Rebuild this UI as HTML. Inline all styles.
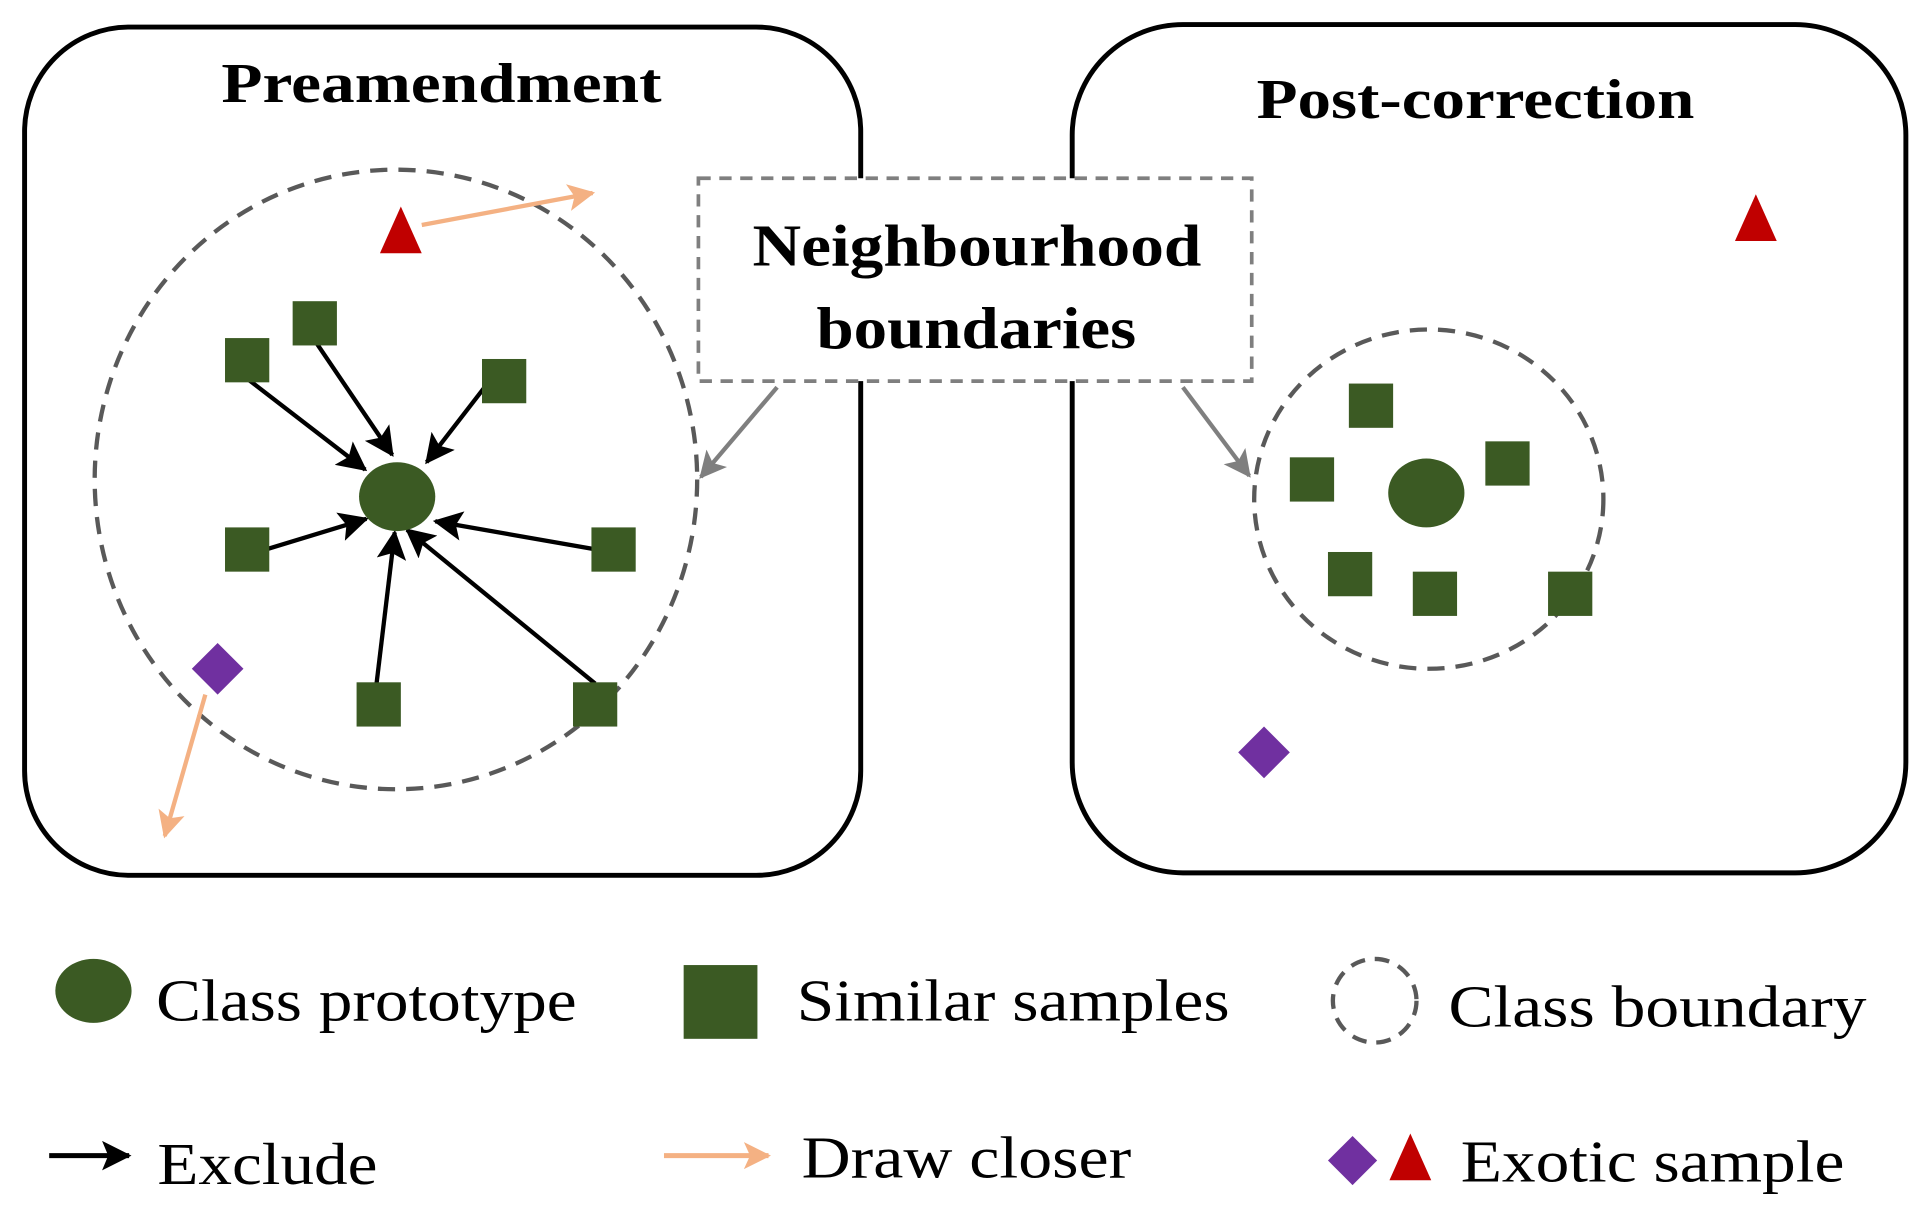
<!DOCTYPE html>
<html><head><meta charset="utf-8"><style>
html,body{margin:0;padding:0;background:#fff;}
svg{display:block;}
text{font-family:"Liberation Serif",serif;}
</style></head><body>
<svg width="1928" height="1222" viewBox="0 0 1568 994" preserveAspectRatio="none" xmlns="http://www.w3.org/2000/svg">
<defs>
<marker id="ao" markerWidth="22" markerHeight="22" refX="20" refY="11" orient="auto" markerUnits="userSpaceOnUse"><path d="M0,0 L22,11 L0,22 L5,11 z" fill="#f4b183"/></marker>
<marker id="ag" markerWidth="22" markerHeight="22" refX="20" refY="11" orient="auto" markerUnits="userSpaceOnUse"><path d="M0,0 L22,11 L0,22 L5,11 z" fill="#7f7f7f"/></marker>
<marker id="ak" markerWidth="24" markerHeight="24" refX="22" refY="12" orient="auto" markerUnits="userSpaceOnUse"><path d="M0,0 L24,12 L0,24 L5,12 z" fill="#000"/></marker>
</defs>
<rect x="20" y="22" width="680" height="690" rx="85" fill="none" stroke="#000" stroke-width="4"/>
<rect x="872" y="20" width="678" height="690" rx="90" fill="none" stroke="#000" stroke-width="4"/>
<text x="180" y="83" font-size="46" font-weight="bold" textLength="358" lengthAdjust="spacingAndGlyphs">Preamendment</text>
<text x="1022" y="96" font-size="46" font-weight="bold" textLength="356" lengthAdjust="spacingAndGlyphs">Post-correction</text>
<ellipse cx="322" cy="390" rx="245" ry="252" fill="none" stroke="#595959" stroke-width="3.5" stroke-dasharray="14,9"/>
<ellipse cx="1162" cy="406" rx="142" ry="138" fill="none" stroke="#595959" stroke-width="3.5" stroke-dasharray="14,9"/>
<rect x="568" y="145" width="450" height="165" fill="#fff" stroke="#7f7f7f" stroke-width="3" stroke-dasharray="10,7"/>
<text x="612" y="216" font-size="48" font-weight="bold" textLength="365" lengthAdjust="spacingAndGlyphs">Neighbourhood</text>
<text x="664" y="283" font-size="48" font-weight="bold" textLength="260" lengthAdjust="spacingAndGlyphs">boundaries</text>
<line x1="632" y1="315" x2="570" y2="388" stroke="#7f7f7f" stroke-width="3.5" marker-end="url(#ag)"/>
<line x1="962" y1="315" x2="1016" y2="387" stroke="#7f7f7f" stroke-width="3.5" marker-end="url(#ag)"/>
<g stroke="#000" stroke-width="3.5" marker-end="url(#ak)">
<line x1="201" y1="308" x2="297" y2="382"/>
<line x1="258" y1="280" x2="319" y2="370"/>
<line x1="398" y1="310" x2="347" y2="376"/>
<line x1="216" y1="447" x2="298" y2="422"/>
<line x1="485" y1="447" x2="354" y2="424"/>
<line x1="306" y1="558" x2="321" y2="433"/>
<line x1="484" y1="556" x2="331" y2="431"/>
</g>
<ellipse cx="323" cy="404" rx="31" ry="28" fill="#3b5a23"/>
<g fill="#3b5a23">
<rect x="183" y="275" width="36" height="36"/>
<rect x="238" y="245" width="36" height="36"/>
<rect x="392" y="292" width="36" height="36"/>
<rect x="183" y="429" width="36" height="36"/>
<rect x="481" y="429" width="36" height="36"/>
<rect x="290" y="555" width="36" height="36"/>
<rect x="466" y="555" width="36" height="36"/>
<ellipse cx="1160" cy="401" rx="31" ry="28"/>
<rect x="1097" y="312" width="36" height="36"/>
<rect x="1049" y="372" width="36" height="36"/>
<rect x="1208" y="359" width="36" height="36"/>
<rect x="1080" y="449" width="36" height="36"/>
<rect x="1149" y="465" width="36" height="36"/>
<rect x="1259" y="465" width="36" height="36"/>
</g>
<polygon points="326,168 343,206 309,206" fill="#c00000"/>
<polygon points="1428,158 1445,196 1411,196" fill="#c00000"/>
<polygon points="177,523 198,544 177,565 156,544" fill="#7030a0"/>
<polygon points="1028,591 1049,612 1028,633 1007,612" fill="#7030a0"/>
<line x1="343" y1="183" x2="482" y2="157" stroke="#f4b183" stroke-width="3.5" marker-end="url(#ao)"/>
<line x1="167" y1="565" x2="134" y2="680" stroke="#f4b183" stroke-width="3.5" marker-end="url(#ao)"/>
<ellipse cx="76" cy="806" rx="31" ry="26" fill="#3b5a23"/>
<text x="127" y="830" font-size="48" textLength="342" lengthAdjust="spacingAndGlyphs">Class prototype</text>
<rect x="556" y="785" width="60" height="60" fill="#3b5a23"/>
<text x="648" y="830" font-size="48" textLength="352" lengthAdjust="spacingAndGlyphs">Similar samples</text>
<circle cx="1118" cy="814" r="34" fill="none" stroke="#595959" stroke-width="3.5" stroke-dasharray="12,8"/>
<text x="1178" y="835" font-size="48" textLength="340" lengthAdjust="spacingAndGlyphs">Class boundary</text>
<line x1="40" y1="940" x2="105" y2="940" stroke="#000" stroke-width="4" marker-end="url(#ak)"/>
<text x="128" y="963" font-size="48" textLength="179" lengthAdjust="spacingAndGlyphs">Exclude</text>
<line x1="540" y1="940" x2="625" y2="940" stroke="#f4b183" stroke-width="4" marker-end="url(#ao)"/>
<text x="652" y="958" font-size="48" textLength="268" lengthAdjust="spacingAndGlyphs">Draw closer</text>
<polygon points="1100,924 1120,944 1100,964 1080,944" fill="#7030a0"/>
<polygon points="1147,922 1164,960 1130,960" fill="#c00000"/>
<text x="1188" y="961" font-size="48" textLength="312" lengthAdjust="spacingAndGlyphs">Exotic sample</text>
</svg>
</body></html>
